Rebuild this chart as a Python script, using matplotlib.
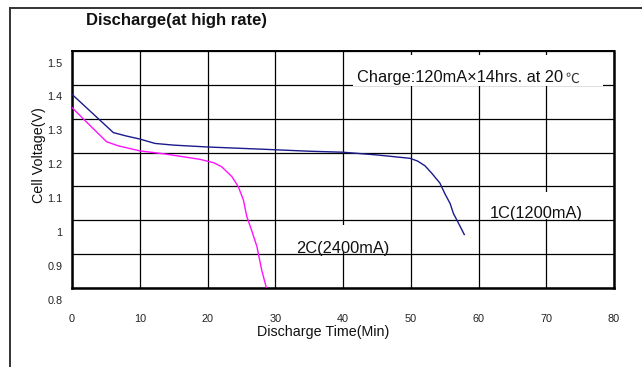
import matplotlib
matplotlib.use('Agg')
import matplotlib.pyplot as plt
from matplotlib import font_manager as fm
from matplotlib.lines import Line2D
from matplotlib.patches import Rectangle
from matplotlib.transforms import ScaledTranslation

# Data
time_1c = [0, 2, 4, 6.1, 8, 10, 12.25, 15, 20, 28, 35, 40, 45, 49.9, 51, 52.1, 53.1,
           54.3, 55.05, 55.8, 56.3, 56.8, 57.9]
volt_1c = [1.372, 1.335, 1.298, 1.259, 1.249, 1.240, 1.227, 1.222, 1.2165, 1.210, 1.204,
           1.201, 1.193, 1.183, 1.175, 1.161, 1.139, 1.110, 1.078, 1.050, 1.020, 1.001, 0.958]
time_2c = [0, 2, 5.1, 6.8, 10, 13.7, 18.9, 20.9, 22.1, 23.6, 24.55, 25.3, 25.8, 26.5,
           27.3, 28.0, 28.7]
volt_2c = [1.333, 1.293, 1.232, 1.220, 1.205, 1.196, 1.180, 1.170, 1.158, 1.129, 1.099,
           1.060, 1.011, 0.971, 0.922, 0.853, 0.800]

x_ticks = [0, 10, 20, 30, 40, 50, 60, 70, 80]
y_ticks = [0.8, 0.9, 1.0, 1.1, 1.2, 1.3, 1.4, 1.5]
y_tick_labels = ['0.8', '0.9', '1', '1.1', '1.2', '1.3', '1.4', '1.5']

# narrow font if we have it, otherwise regular squeezed by size
names = {f.name for f in fm.fontManager.ttflist}
if 'Liberation Sans Narrow' in names:
    nfam, k = 'Liberation Sans Narrow', 1.0
else:
    nfam, k = 'Liberation Sans', 0.82

plt.rcParams['font.family'] = 'Liberation Sans'

W, H = 642, 367
fig = plt.figure(figsize=(W / 100, H / 100), dpi=100)
ax = fig.add_axes([72 / W, 1 - 288 / H, (614 - 72) / W, (288 - 51) / H])

ax.set_xlim(0, 80)
ax.set_ylim(0.8, 1.5)
ax.set_xticks(x_ticks)
ax.set_yticks(y_ticks)
ax.set_yticklabels(y_tick_labels)
ax.tick_params(length=0, labelsize=7.8, colors='#222222')
ax.tick_params(axis='x', pad=19)
ax.tick_params(axis='y', pad=7)
shift = ScaledTranslation(0, -0.115, fig.dpi_scale_trans)
for lab in ax.get_yticklabels():
    lab.set_transform(lab.get_transform() + shift)

ax.set_axisbelow(True)
ax.grid(True, color='black', linewidth=0.9)
for side in ['left', 'bottom', 'right']:
    ax.spines[side].set_linewidth(1.8)
ax.spines['top'].set_linewidth(1.4)

ax.plot(time_1c, volt_1c, color='#1a1a8c', linewidth=1.0, zorder=3)
ax.plot(time_2c, volt_2c, color='#ff10ff', linewidth=1.0, zorder=3)

# white patches behind the labels (they hide the grid)
ax.add_patch(Rectangle((41.5, 1.397), 36.9, 0.091, facecolor='white', edgecolor='none', zorder=1))
ax.add_patch(Rectangle((61.0, 1.003), 15.7, 0.082, facecolor='white', edgecolor='none', zorder=1))
ax.add_patch(Rectangle((32.5, 0.906), 14.7, 0.080, facecolor='white', edgecolor='none', zorder=1))

t = ax.text(42.0, 1.407, 'Charge:120mA\u00d714hrs. at 20', family=nfam, fontsize=14.4 * k,
            ha='left', va='baseline', color='#111111', zorder=4)
ax.annotate('\u2103', xy=(1, 0), xycoords=t, xytext=(2, 0), textcoords='offset points',
            family=['Noto Sans CJK SC', 'DejaVu Sans'], fontsize=10, color='#333333',
            ha='left', va='bottom', zorder=4)
ax.text(61.7, 1.006, '1C(1200mA)', family=nfam, fontsize=14.4 * k,
        ha='left', va='baseline', color='#111111', zorder=4)
ax.text(33.1, 0.9025, '2C(2400mA)', family=nfam, fontsize=14.4 * k,
        ha='left', va='baseline', color='#111111', zorder=4)

# titles / axis labels
fig.text(177 / W, 1 - 20 / H, 'Discharge(at high rate)', fontsize=12, weight='bold',
         ha='center', va='center', color='#111111')
fig.text(323 / W, 1 - 332 / H, 'Discharge Time(Min)', family=nfam, fontsize=12.5 * k,
         ha='center', va='center', color='#111111')
fig.text(38.5 / W, 1 - 155.5 / H, 'Cell Voltage(V)', family=nfam, fontsize=12.5 * k,
         rotation=90, ha='center', va='center', color='#111111')

# outer frame (top and left edges only show)
fig.add_artist(Line2D([10 / W, 1], [1 - 8 / H, 1 - 8 / H], color='#333333', linewidth=1.4))
fig.add_artist(Line2D([10 / W, 10 / W], [0, 1 - 8 / H], color='#333333', linewidth=1.4))

fig.savefig('out.png', dpi=100, facecolor='white')
